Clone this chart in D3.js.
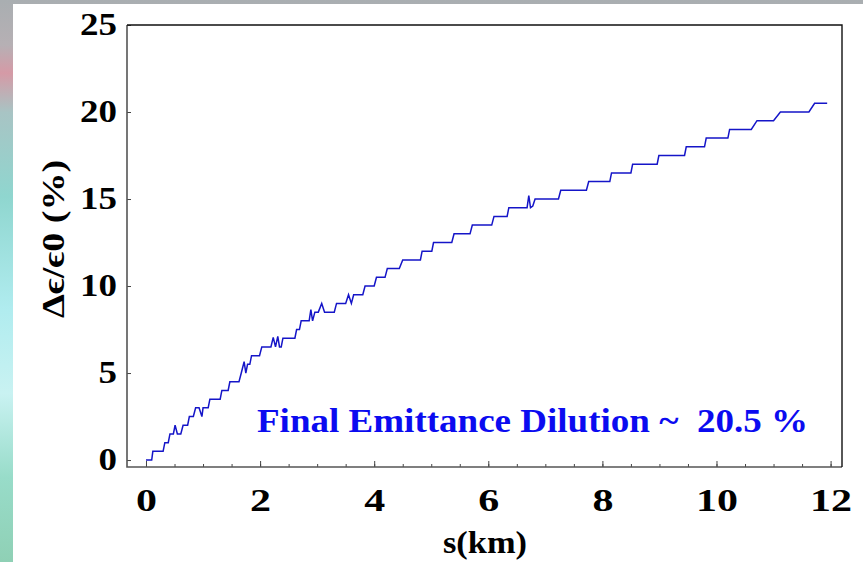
<!DOCTYPE html>
<html>
<head>
<meta charset="utf-8">
<script src="https://cdn.jsdelivr.net/npm/d3@7/dist/d3.min.js"></script>
<style>
  html, body { margin: 0; padding: 0; }
  body { width: 863px; height: 562px; overflow: hidden; }
  text { font-family: "Liberation Serif", "Times New Roman", serif; font-weight: bold; }
</style>
</head>
<body>
<div id="chart"></div>
<script>
// distance along the line (km)
var sKm = [0, 0.10, 0.12, 0.30, 0.33, 0.39, 0.42, 0.48, 0.51, 0.55, 0.61, 0.65, 0.73, 0.76, 0.83, 0.87,
  0.93, 0.98, 1.00, 1.09, 1.12, 1.30, 1.33, 1.44, 1.47, 1.63, 1.67, 1.72, 1.75, 1.78, 1.82, 1.85,
  1.99, 2.03, 2.19, 2.23, 2.27, 2.31, 2.34, 2.37, 2.40, 2.61, 2.64, 2.69, 2.72, 2.86, 2.89, 2.92,
  2.96, 3.02, 3.08, 3.13, 3.30, 3.34, 3.50, 3.55, 3.60, 3.64, 3.80, 3.84, 4.00, 4.04, 4.19, 4.23,
  4.44, 4.50, 4.81, 4.84, 5.01, 5.04, 5.36, 5.40, 5.68, 5.72, 6.06, 6.10, 6.33, 6.36, 6.68, 6.71,
  6.74, 6.78, 6.82, 7.23, 7.27, 7.72, 7.76, 8.13, 8.16, 8.50, 8.53, 8.96, 8.99, 9.44, 9.47, 9.79,
  9.82, 10.20, 10.23, 10.61, 10.71, 11.00, 11.12, 11.62, 11.72, 11.94];
// emittance dilution (%)
var dilution = [0, 0, 0.5, 0.5, 1.0, 1.0, 1.5, 1.5, 2.0, 1.5, 1.5, 2.0, 2.0, 2.5, 2.5, 3.0,
  3.0, 2.5, 3.0, 3.0, 3.5, 3.5, 4.0, 4.0, 4.5, 4.5, 5.0, 5.65, 5.0, 5.5, 5.5, 6.0,
  6.0, 6.5, 6.5, 7.05, 6.5, 7.1, 6.5, 6.5, 7.0, 7.0, 7.5, 7.5, 8.0, 8.0, 8.65, 8.0,
  8.5, 8.5, 9.0, 8.5, 8.5, 9.0, 9.0, 9.5, 9.0, 9.5, 9.5, 10.0, 10.0, 10.5, 10.5, 11.0,
  11.0, 11.5, 11.5, 12.0, 12.0, 12.5, 12.5, 13.0, 13.0, 13.5, 13.5, 14.0, 14.0, 14.5, 14.5, 15.2,
  14.5, 14.6, 15.0, 15.0, 15.5, 15.5, 16.0, 16.0, 16.5, 16.5, 17.0, 17.0, 17.5, 17.5, 18.0, 18.0,
  18.5, 18.5, 19.0, 19.0, 19.5, 19.5, 20.0, 20.0, 20.5, 20.5];

var xTicks = [0, 2, 4, 6, 8, 10, 12];
var xMinorTicks = d3.range(0, 12.01, 0.5);
var yTicks = [0, 5, 10, 15, 20, 25];
var xTitle = "s(km)";
var yTitle = "Δϵ/ϵ0 (%)";
var note = "Final Emittance Dilution ~  20.5 %";

var W = 863, H = 562;
var frame = {left: 127, top: 25, right: 842, bottom: 467};

var svg = d3.select("#chart").append("svg")
    .attr("width", W)
    .attr("height", H);

// blurry slide background peeking out on the left and top
var defs = svg.append("defs");
var grad = defs.append("linearGradient")
    .attr("id", "bg")
    .attr("x1", 0).attr("y1", 0).attr("x2", 0).attr("y2", 1);
[[0, "#a9aeb1"], [0.08, "#b6b0b4"], [0.13, "#d59aa6"], [0.2, "#a8c4c4"], [0.35, "#8fd6cf"],
 [0.55, "#b0ecef"], [0.7, "#c9f2f2"], [0.85, "#98dcc9"], [1, "#8fd0b5"]].forEach(function(d) {
  grad.append("stop").attr("offset", d[0]).attr("stop-color", d[1]);
});
svg.append("rect").attr("width", W).attr("height", H).attr("fill", "url(#bg)");
svg.append("rect").attr("x", 13).attr("y", 4).attr("width", W - 13).attr("height", H - 4).attr("fill", "#fff");

var x = d3.scaleLinear().domain([-0.333, 12.2]).range([frame.left, frame.right]);
var y = d3.scaleLinear().domain([-0.4, 25]).range([frame.bottom, frame.top]);

// the slide is stretched sideways, so labels get a fixed width per digit
function labelStyle(perChar) {
  return function(g) {
    g.selectAll("text")
      .attr("font-size", 31).attr("fill", "#000")
      .attr("font-family", "'Liberation Serif', 'Times New Roman', serif")
      .attr("font-weight", "bold")
      .attr("lengthAdjust", "spacingAndGlyphs")
      .attr("textLength", function() { return this.textContent.length * perChar; });
  };
}

// minor ticks on the bottom
svg.append("g")
    .attr("transform", "translate(0," + frame.bottom + ")")
    .call(d3.axisBottom(x).tickValues(xMinorTicks).tickSize(-3).tickFormat(""))
    .call(function(g) { g.select(".domain").remove(); })
    .call(function(g) { g.selectAll("line").attr("stroke", "#444"); });

// major bottom axis
svg.append("g")
    .attr("transform", "translate(0," + frame.bottom + ")")
    .call(d3.axisBottom(x).tickValues(xTicks).tickSize(-6).tickPadding(22).tickFormat(d3.format("d")))
    .call(function(g) { g.select(".domain").remove(); })
    .call(function(g) { g.selectAll("line").attr("stroke", "#444"); })
    .call(labelStyle(21));

// left axis
svg.append("g")
    .attr("transform", "translate(" + frame.left + ",0)")
    .call(d3.axisLeft(y).tickValues(yTicks).tickSize(-4).tickPadding(10).tickFormat(d3.format("d")))
    .call(function(g) { g.select(".domain").remove(); })
    .call(function(g) { g.selectAll("line").attr("stroke", "#444"); })
    .call(labelStyle(18.5));

// frame: dark grey left/bottom, black top/right
svg.append("path")
    .attr("d", "M" + frame.left + "," + frame.top + "V" + frame.bottom + "H" + frame.right)
    .attr("fill", "none").attr("stroke", "#555").attr("stroke-width", 1.6);
svg.append("path")
    .attr("d", "M" + frame.left + "," + frame.top + "H" + frame.right + "V" + frame.bottom)
    .attr("fill", "none").attr("stroke", "#111").attr("stroke-width", 1.4);

var pts = sKm.map(function(s, i) { return [s, dilution[i]]; });
var line = d3.line()
    .x(function(d) { return x(d[0]); })
    .y(function(d) { return y(d[1]); });

svg.append("path")
    .datum(pts)
    .attr("d", line)
    .attr("fill", "none")
    .attr("stroke", "#1515c8")
    .attr("stroke-width", 1.5)
    .attr("stroke-linejoin", "miter");

svg.append("text")
    .attr("x", 257).attr("y", 432)
    .attr("font-size", 33)
    .attr("fill", "#0b0bf0")
    .attr("xml:space", "preserve")
    .style("white-space", "pre")
    .attr("lengthAdjust", "spacingAndGlyphs")
    .attr("textLength", 551)
    .text(note);

svg.append("text")
    .attr("x", 485).attr("y", 553)
    .attr("text-anchor", "middle")
    .attr("font-size", 32)
    .attr("fill", "#000")
    .attr("lengthAdjust", "spacingAndGlyphs")
    .attr("textLength", 84)
    .text(xTitle);

svg.append("text")
    .attr("transform", "translate(64,239) rotate(-90)")
    .attr("text-anchor", "middle")
    .attr("font-size", 32)
    .attr("fill", "#000")
    .attr("lengthAdjust", "spacingAndGlyphs")
    .attr("textLength", 158)
    .text(yTitle);
</script>
</body>
</html>
